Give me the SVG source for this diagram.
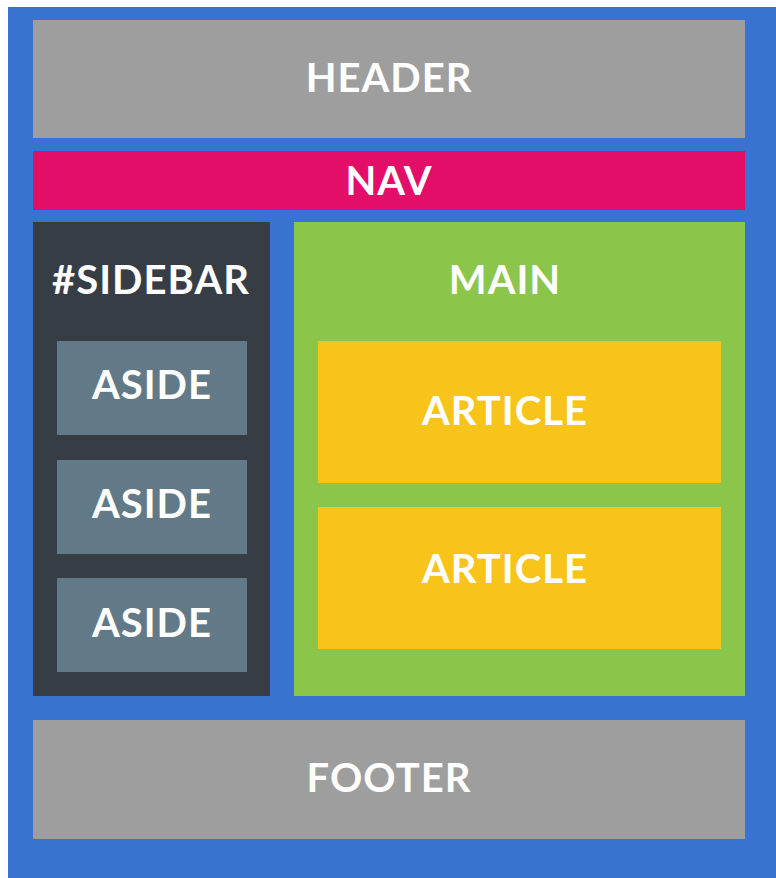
<svg xmlns="http://www.w3.org/2000/svg" width="776" height="878" viewBox="0 0 776 878">
  <style>
    .lbl { font-family: Lato, "Open Sans", "Liberation Sans", sans-serif; font-weight: 700; font-size: 40px; letter-spacing: 1px; fill: #ffffff; text-anchor: middle; }
    .gray { fill: #9e9e9e; }
  </style>
  <!-- page frame -->
  <rect x="8" y="7" width="768" height="871" fill="#3873d1"/>

  <g id="header">
    <rect class="gray" x="33" y="20" width="712" height="118"/>
    <text class="lbl" x="389" y="92">HEADER</text>
  </g>

  <g id="nav">
    <rect x="33" y="151" width="712" height="59" fill="#e20e67"/>
    <text class="lbl" x="389" y="195">NAV</text>
  </g>

  <g id="sidebar">
    <rect x="33" y="222" width="237" height="474" fill="#373d44"/>
    <text class="lbl" x="151" y="294">#SIDEBAR</text>
  </g>

  <g id="aside-1">
    <rect x="57" y="341" width="190" height="94" fill="#627a87"/>
    <text class="lbl" x="152" y="399">ASIDE</text>
  </g>
  <g id="aside-2">
    <rect x="57" y="460" width="190" height="94" fill="#627a87"/>
    <text class="lbl" x="152" y="518">ASIDE</text>
  </g>
  <g id="aside-3">
    <rect x="57" y="578" width="190" height="94" fill="#627a87"/>
    <text class="lbl" x="152" y="637">ASIDE</text>
  </g>

  <g id="main">
    <rect x="294" y="222" width="451" height="474" fill="#8bc54a"/>
    <text class="lbl" x="505" y="294">MAIN</text>
  </g>

  <g id="article-1">
    <rect x="318" y="341" width="403" height="142" fill="#f9c41a"/>
    <text class="lbl" x="505" y="425">ARTICLE</text>
  </g>
  <g id="article-2">
    <rect x="318" y="507" width="403" height="142" fill="#f9c41a"/>
    <text class="lbl" x="505" y="583">ARTICLE</text>
  </g>

  <g id="footer">
    <rect class="gray" x="33" y="720" width="712" height="119"/>
    <text class="lbl" x="389" y="792">FOOTER</text>
  </g>

  <g id="connectors"/>
</svg>
